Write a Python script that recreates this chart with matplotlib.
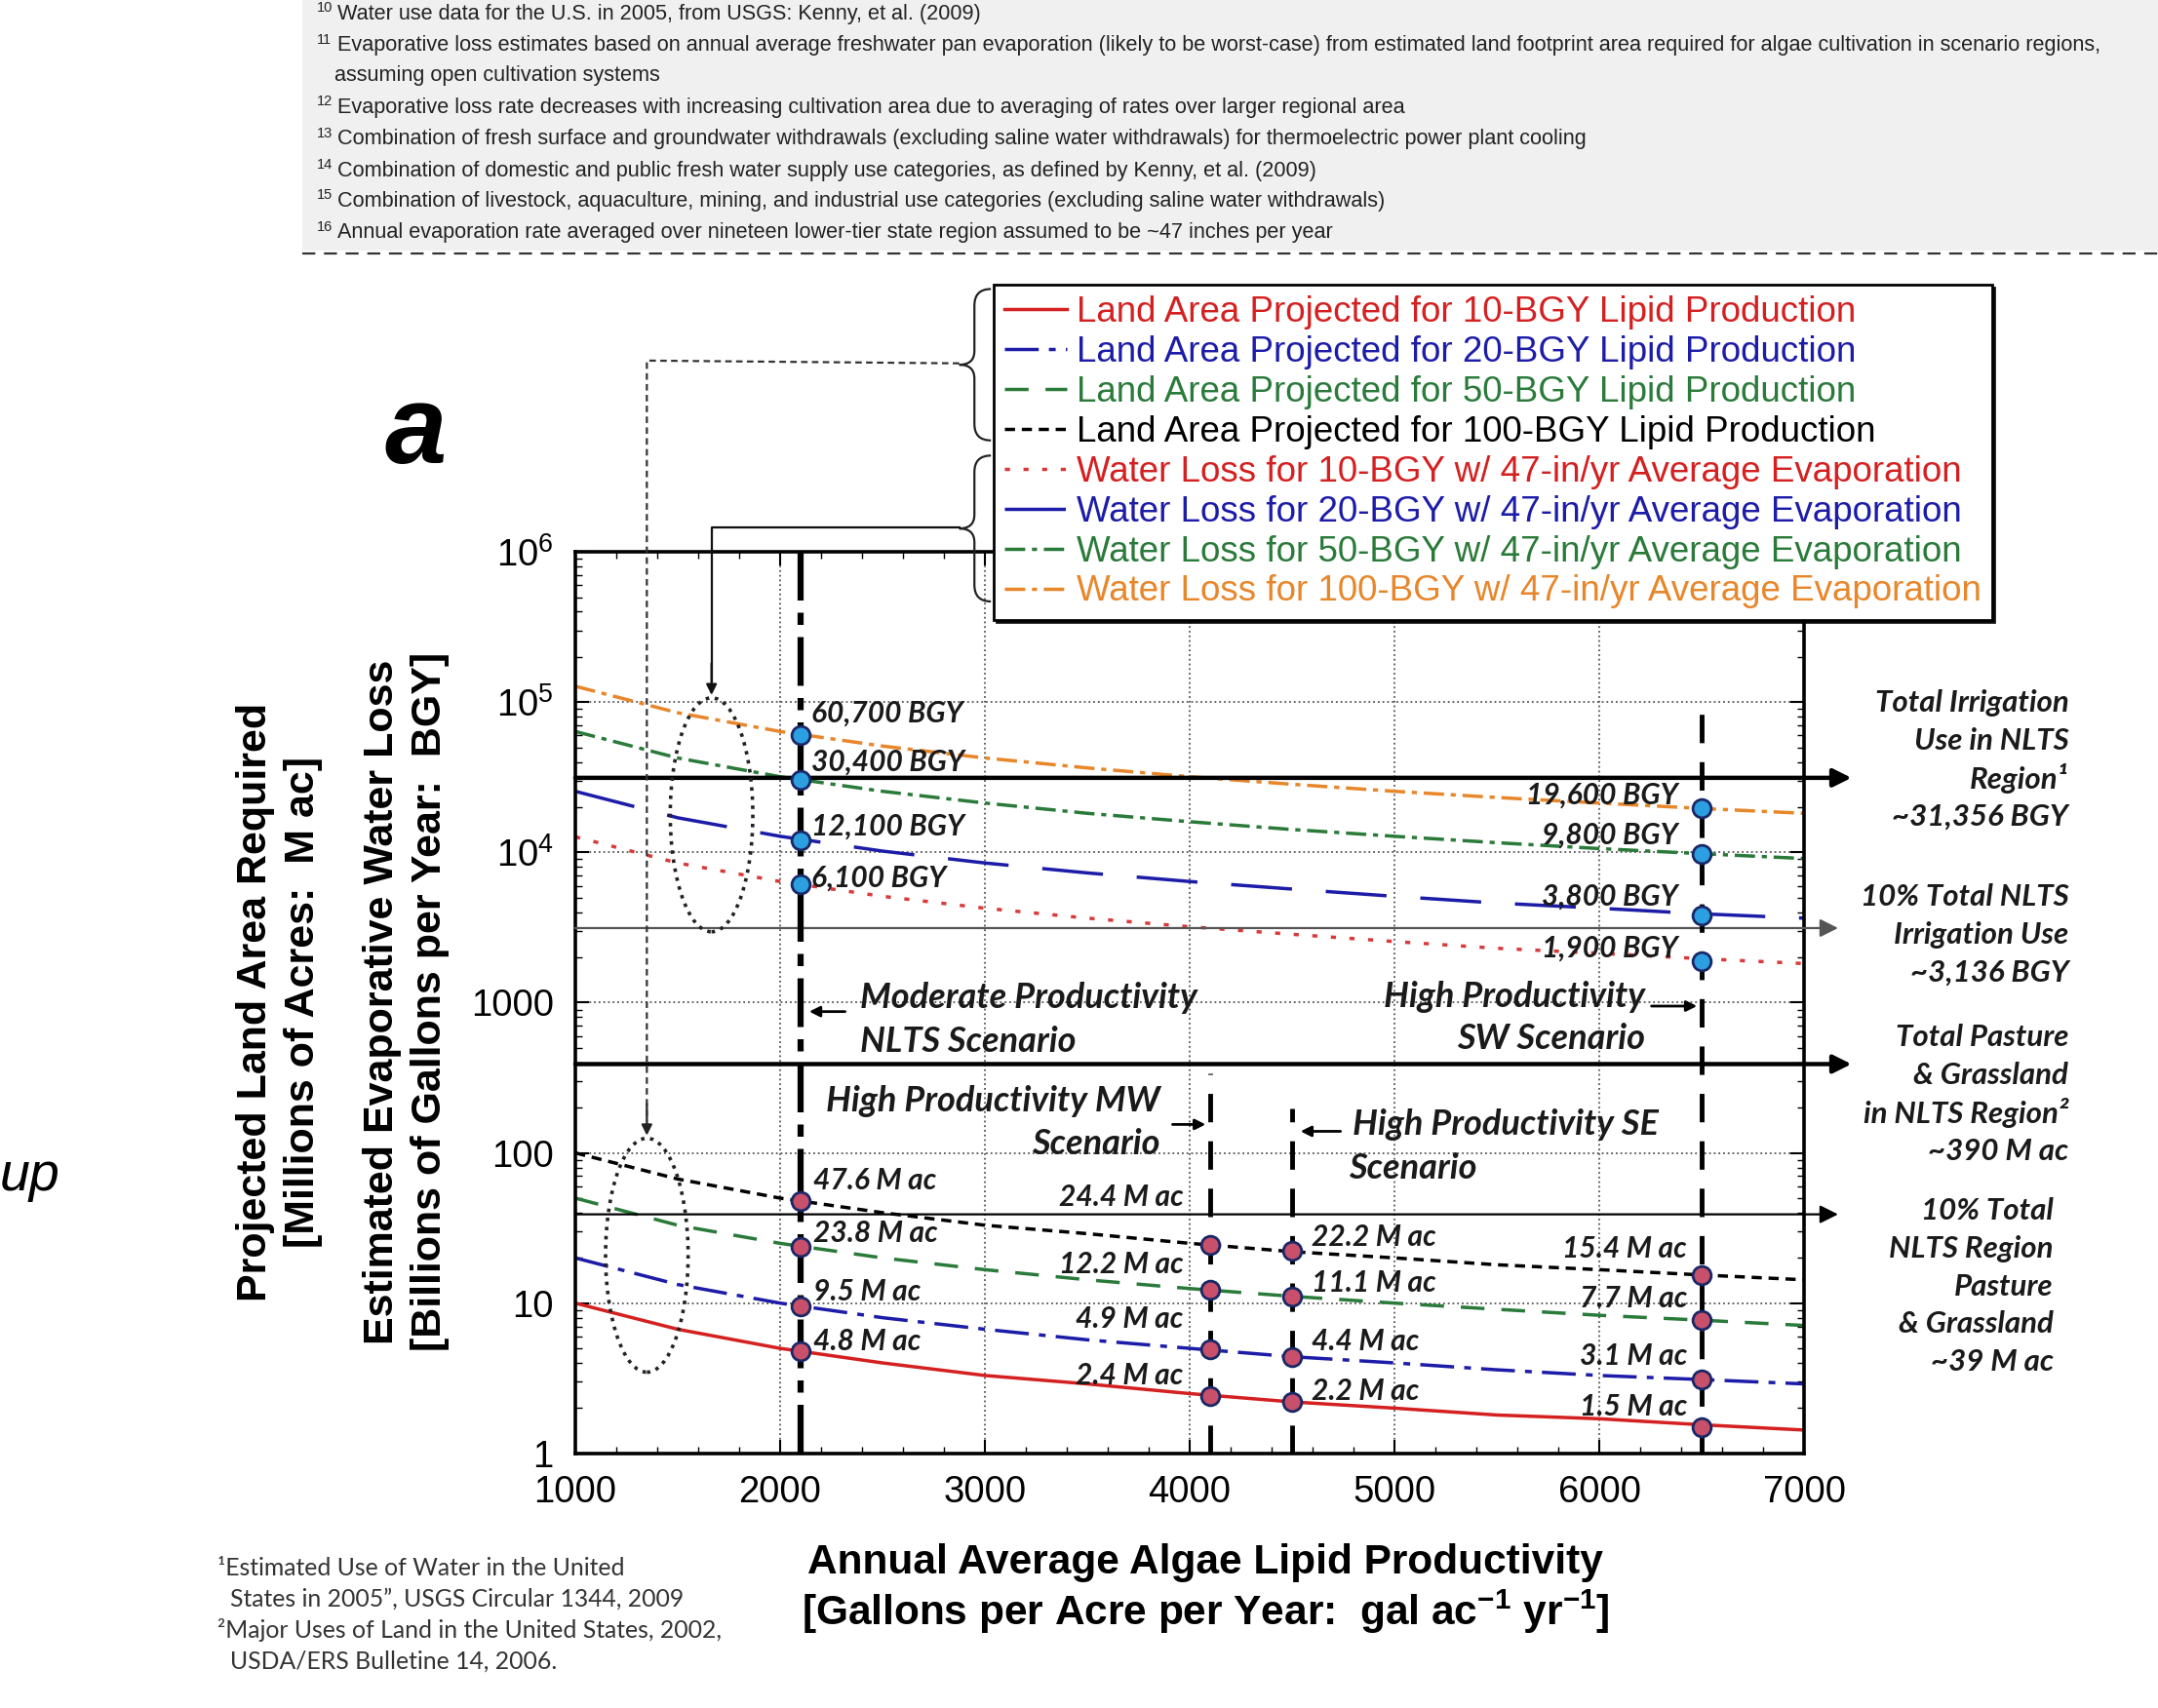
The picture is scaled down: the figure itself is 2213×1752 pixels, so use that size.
import numpy as np
import matplotlib
matplotlib.use('Agg')
import matplotlib.pyplot as plt
from matplotlib.lines import Line2D
from matplotlib.patches import Ellipse, Rectangle, PathPatch, FancyArrowPatch
from matplotlib.path import Path
from matplotlib.ticker import MultipleLocator, NullFormatter, LogLocator

plt.rcParams['font.family'] = ['Liberation Sans', 'DejaVu Sans']
plt.rcParams['mathtext.fontset'] = 'custom'
plt.rcParams['mathtext.rm'] = 'Liberation Sans'
plt.rcParams['mathtext.bf'] = 'Liberation Sans:bold'

##------ data ------##
productivity = [1000, 1500, 2000, 2500, 3000, 3500, 4000, 4500, 5000, 5500, 6000, 6500, 7000]

# land area required [M ac]
land_10 = [10, 6.7, 5.0, 4.0, 3.3, 2.9, 2.5, 2.2, 2.0, 1.8, 1.7, 1.55, 1.43]
land_20 = [20, 13.3, 10, 8.0, 6.7, 5.7, 5.0, 4.4, 4.0, 3.6, 3.3, 3.1, 2.9]
land_50 = [50, 33, 25, 20, 16.7, 14.3, 12.5, 11.1, 10, 9.1, 8.3, 7.7, 7.1]
land_100 = [100, 67, 50, 40, 33, 29, 25, 22, 20, 18, 16.7, 15.4, 14.3]

# evaporative water loss [BGY]
water_10 = [12700, 8500, 6400, 5100, 4250, 3650, 3200, 2850, 2550, 2300, 2130, 1960, 1820]
water_20 = [25500, 17000, 12800, 10200, 8500, 7300, 6400, 5700, 5100, 4600, 4250, 3900, 3650]
water_50 = [63800, 42500, 31900, 25500, 21300, 18200, 16000, 14200, 12800, 11600, 10600, 9800, 9100]
water_100 = [127600, 85000, 63800, 51000, 42500, 36500, 31900, 28400, 25500, 23200, 21300, 19600, 18200]

# scenario productivities
x_nlts, x_mw, x_se, x_sw = 2100, 4100, 4500, 6500
water_nlts = [60700, 30400, 12100, 6100]
water_sw = [19600, 9800, 3800, 1900]
land_nlts = [47.6, 23.8, 9.5, 4.8]
land_mw = [24.4, 12.2, 4.9, 2.4]
land_se = [22.2, 11.1, 4.4, 2.2]
land_sw = [15.4, 7.7, 3.1, 1.5]

# reference levels
irrigation_total = 31356
irrigation_10pct = 3136
pasture_total = 390
pasture_10pct = 39

legend_labels = ['Land Area Projected for 10-BGY Lipid Production',
                 'Land Area Projected for 20-BGY Lipid Production',
                 'Land Area Projected for 50-BGY Lipid Production',
                 'Land Area Projected for 100-BGY Lipid Production',
                 'Water Loss for 10-BGY w/ 47-in/yr Average Evaporation',
                 'Water Loss for 20-BGY w/ 47-in/yr Average Evaporation',
                 'Water Loss for 50-BGY w/ 47-in/yr Average Evaporation',
                 'Water Loss for 100-BGY w/ 47-in/yr Average Evaporation']

x_ticks = [1000, 2000, 3000, 4000, 5000, 6000, 7000]
y_ticks = [1, 10, 100, 1000, 1e4, 1e5, 1e6]
y_ticklabels = ['1', '10', '100', '1000', r'$10^4$', r'$10^5$', r'$10^6$']

top_notes = [('10', 'Water use data for the U.S. in 2005, from USGS: Kenny, et al. (2009)'),
             ('11', 'Evaporative loss estimates based on annual average freshwater pan evaporation (likely to be worst-case) from estimated land footprint area required for algae cultivation in scenario regions,'),
             ('', 'assuming open cultivation systems'),
             ('12', 'Evaporative loss rate decreases with increasing cultivation area due to averaging of rates over larger regional area'),
             ('13', 'Combination of fresh surface and groundwater withdrawals (excluding saline water withdrawals) for thermoelectric power plant cooling'),
             ('14', 'Combination of domestic and public fresh water supply use categories, as defined by Kenny, et al. (2009)'),
             ('15', 'Combination of livestock, aquaculture, mining, and industrial use categories (excluding saline water withdrawals)'),
             ('16', 'Annual evaporation rate averaged over nineteen lower-tier state region assumed to be ~47 inches per year')]

##------ helpers: layout in pixels of the 1568x1241 view ------##
W, H = 1568.0, 1241.0
def fx(px):
    return px / W
def fy(py):
    return 1 - py / H

RED = '#d42020'
BLUE = '#1c1ca8'
GREEN = '#2a7a3a'
ORANGE = '#e8862a'
LBL = dict(fontsize=21.5, fontweight='bold', style='italic', family=['Lato', 'DejaVu Sans'], color='#1a1a1a')

fig = plt.figure(figsize=(22.13, 17.52), dpi=100)
ax = fig.add_axes([fx(418), fy(1056), fx(1311) - fx(418), fy(401) - fy(1056)])

##------ top footnote box ------##
fig.patches.append(Rectangle((fx(220), fy(182)), 1 - fx(220), fy(0) - fy(182) + 0.01,
                             transform=fig.transFigure, facecolor='#f0f0f0', edgecolor='none', zorder=0))
fig.add_artist(Line2D([fx(220), 1.0], [fy(184), fy(184)], transform=fig.transFigure,
                      color='#333333', lw=1.6, dashes=(6, 4)))
note_y = [10, 33, 55, 78, 101, 124, 146, 169]
for (num, txt), py in zip(top_notes, note_y):
    if num:
        fig.text(fx(230), fy(py - 4), num, fontsize=10.5, ha='left', va='center', color='#222')
        fig.text(fx(245), fy(py), txt, fontsize=15.6, ha='left', va='center', color='#222')
    else:
        fig.text(fx(243), fy(py), txt, fontsize=15.6, ha='left', va='center', color='#222')

##------ curves ------##
h1, = ax.plot(productivity, land_10, color=RED, lw=2.5)
h2, = ax.plot(productivity, land_20, color=BLUE, lw=2.5, dashes=(10, 3, 2, 3))
h3, = ax.plot(productivity, land_50, color=GREEN, lw=2.5, dashes=(7, 5))
h4, = ax.plot(productivity, land_100, color='k', lw=2.5, dashes=(3, 2))
h5, = ax.plot(productivity, water_10, color='#d83a3a', lw=2.5, dashes=(1.5, 4))
h6, = ax.plot(productivity, water_20, color=BLUE, lw=2.5, dashes=(18, 10))
h7, = ax.plot(productivity, water_50, color=GREEN, lw=2.5, dashes=(6, 2, 1.5, 2))
h8, = ax.plot(productivity, water_100, color=ORANGE, lw=2.5, dashes=(6, 2, 1.5, 2))

##------ reference levels with arrows ------##
for lev, lw, col, xend in [(irrigation_total, 3.2, 'k', 7230), (irrigation_10pct, 1.6, '#555555', 7165),
                           (pasture_total, 3.2, 'k', 7230), (pasture_10pct, 1.6, 'k', 7165)]:
    ax.annotate('', xy=(xend, lev), xytext=(1000, lev), annotation_clip=False, zorder=4,
                arrowprops=dict(arrowstyle='-|>', lw=lw, color=col, mutation_scale=28, shrinkA=0, shrinkB=0))

##------ scenario verticals ------##
ax.plot([x_nlts, x_nlts], [1, 1e6], color='k', lw=4.5, dashes=(8, 2, 2, 2), zorder=4)
ax.plot([x_mw, x_mw], [1, 337], color='k', lw=3.5, dashes=(6, 4), zorder=4)
ax.plot([x_se, x_se], [1, 199], color='k', lw=3.5, dashes=(6, 4), zorder=4)
ax.plot([x_sw, x_sw], [1, 1e5], color='k', lw=3.5, dashes=(6, 4), zorder=4)

##------ scenario points and labels ------##
mk_water = dict(marker='o', ls='none', ms=13.5, mfc='#2b9fe0', mec='#1a2766', mew=2, zorder=6)
mk_land = dict(marker='o', ls='none', ms=13.5, mfc='#c8506a', mec='#1a2766', mew=2, zorder=6)
ax.plot([x_nlts] * len(water_nlts), water_nlts, **mk_water)
ax.plot([x_sw] * len(water_sw), water_sw, **mk_water)
ax.plot([x_nlts] * len(land_nlts), land_nlts, **mk_land)
ax.plot([x_mw] * len(land_mw), land_mw, **mk_land)
ax.plot([x_se] * len(land_se), land_se, **mk_land)
ax.plot([x_sw] * len(land_sw), land_sw, **mk_land)

def label_points(xv, vals, fmt, dx, dys, ha):
    for v, dy in zip(vals, dys):
        ax.annotate(fmt(v), xy=(xv, v), xytext=(dx, dy), textcoords='offset points',
                    ha=ha, va='center', zorder=7, **LBL)

label_points(x_nlts, water_nlts, lambda v: f'{v:,} BGY', 8, [16, 13, 10, 5], 'left')
label_points(x_sw, water_sw, lambda v: f'{v:,} BGY', -18, [10, 14, 14, 9], 'right')
label_points(x_nlts, land_nlts, lambda v: f'{v} M ac', 9, [15, 10, 11, 7], 'left')
label_points(x_mw, land_mw, lambda v: f'{v} M ac', -20, [35, 19, 23, 15], 'right')
label_points(x_se, land_se, lambda v: f'{v} M ac', 14, [10, 10, 11, 8], 'left')
label_points(x_sw, land_sw, lambda v: f'{v} M ac', -11, [19, 16, 17, 15], 'right')

##------ scenario names ------##
SC = dict(LBL, fontsize=26)
fig.text(fx(625), fy(725), 'Moderate Productivity', ha='left', va='center', **SC)
fig.text(fx(625), fy(757), 'NLTS Scenario', ha='left', va='center', **SC)
fig.text(fx(1195), fy(724), 'High Productivity', ha='right', va='center', **SC)
fig.text(fx(1195), fy(755), 'SW Scenario', ha='right', va='center', **SC)
fig.text(fx(600), fy(800), 'High Productivity MW', ha='left', va='center', **SC)
fig.text(fx(843), fy(831), 'Scenario', ha='right', va='center', **SC)
fig.text(fx(983), fy(817), 'High Productivity SE', ha='left', va='center', **SC)
fig.text(fx(980), fy(849), 'Scenario', ha='left', va='center', **SC)
for x0, y0, x1, y1 in [(616, 735, 586, 735), (1198, 731, 1235, 731), (850, 817, 878, 817), (976, 822, 943, 822)]:
    fig.add_artist(FancyArrowPatch((fx(x0), fy(y0)), (fx(x1), fy(y1)), transform=fig.transFigure,
                   arrowstyle='-|>', mutation_scale=16, lw=2, color='k', zorder=8))

##------ right side notes ------##
RS = dict(LBL, fontsize=22.5)
groups = [(1503, 511, ['Total Irrigation', 'Use in NLTS', 'Region\u00b9', '~31,356 BGY']),
          (1503, 652, ['10% Total NLTS', 'Irrigation Use', '~3,136 BGY']),
          (1503, 754, ['Total Pasture', '& Grassland', 'in NLTS Region\u00b2', '~390 M ac']),
          (1492, 880, ['10% Total', 'NLTS Region', 'Pasture', '& Grassland', '~39 M ac'])]
for xr, y0, lines in groups:
    for i, s in enumerate(lines):
        fig.text(fx(xr), fy(y0 + 27.4 * i), s, ha='right', va='center', **RS)

##------ axes styling ------##
ax.set_yscale('log')
ax.set_xlim(1000, 7000)
ax.set_ylim(1, 1e6)
ax.set_xticks(x_ticks)
ax.set_xticklabels([str(t) for t in x_ticks])
ax.set_yticks(y_ticks)
ax.set_yticklabels(y_ticklabels)
ax.xaxis.set_minor_locator(MultipleLocator(200))
ax.yaxis.set_minor_locator(LogLocator(base=10, subs=np.arange(2, 10), numticks=20))
ax.yaxis.set_minor_formatter(NullFormatter())
ax.tick_params(which='both', direction='in', top=True, right=True)
ax.tick_params(which='major', length=10, width=1.5)
ax.tick_params(which='minor', length=5, width=1)
ax.tick_params(axis='y', which='major', pad=16)
ax.tick_params(axis='x', which='major', pad=16)
for lab in ax.get_xticklabels() + ax.get_yticklabels():
    lab.set_fontsize(27.5)
ax.grid(True, which='major', linestyle=':', color='#555555', lw=1.3)
for sp in ax.spines.values():
    sp.set_linewidth(2.6)

##------ legend ------##
leg = ax.legend([h1, h2, h3, h4, h5, h6, h7, h8], legend_labels, loc='upper left',
                bbox_to_anchor=(fx(722), fy(207)), bbox_transform=fig.transFigure, borderaxespad=0,
                fontsize=26.5, frameon=True, fancybox=False, shadow={'color': 'k', 'alpha': 0.9},
                handlelength=1.75, handletextpad=0.25, labelspacing=0.16, borderpad=0.3)
leg.get_frame().set_edgecolor('k')
leg.get_frame().set_linewidth(2)
leg.set_zorder(20)
for t, c in zip(leg.get_texts(), [RED, BLUE, GREEN, 'k', RED, BLUE, GREEN, ORANGE]):
    t.set_color(c)

##------ braces and connectors ------##
def brace(y_top, y_bot, x_tip=697, x_in=708, x_end=720):
    ym = (y_top + y_bot) / 2
    pts = [(x_end, y_top), (x_in, y_top), (x_in, y_top + 12), (x_in, ym - 10), (x_in, ym), (x_tip, ym),
           (x_in, ym), (x_in, ym + 10), (x_in, y_bot - 12), (x_in, y_bot), (x_end, y_bot)]
    codes = [Path.MOVETO, Path.CURVE3, Path.CURVE3, Path.LINETO, Path.CURVE3, Path.CURVE3,
             Path.CURVE3, Path.CURVE3, Path.LINETO, Path.CURVE3, Path.CURVE3]
    p = Path([(fx(a), fy(b)) for a, b in pts], codes)
    fig.add_artist(PathPatch(p, transform=fig.transFigure, fill=False, lw=1.6, edgecolor='#222'))

brace(210, 320)
brace(331, 437)
fig.add_artist(Line2D([fx(697), fx(470), fx(470)], [fy(264), fy(262), fy(815)], transform=fig.transFigure,
                      color='#333', lw=1.6, dashes=(3, 2)))
fig.add_artist(FancyArrowPatch((fx(470), fy(800)), (fx(470), fy(827)), transform=fig.transFigure,
               arrowstyle='-|>', mutation_scale=16, lw=1.6, color='#222'))
fig.add_artist(Line2D([fx(697), fx(517), fx(517)], [fy(383), fy(383), fy(495)], transform=fig.transFigure,
                      color='#111', lw=1.6))
fig.add_artist(FancyArrowPatch((fx(517), fy(480)), (fx(517), fy(507)), transform=fig.transFigure,
               arrowstyle='-|>', mutation_scale=16, lw=1.6, color='#111'))
for cx, cy in [(517, 592), (470, 912)]:
    fig.add_artist(Ellipse((fx(cx), fy(cy)), 60 / W, 170 / H, transform=fig.transFigure, fill=False,
                           lw=2.6, edgecolor='#222', linestyle=(0, (1, 1.6))))

##------ axis titles ------##
fig.text(fx(203), fy(728), 'Projected Land Area Required\n[Millions of Acres:  M ac]', rotation=90,
         ha='center', va='center', fontsize=31, fontweight='bold', linespacing=1.3)
fig.text(fx(295), fy(728), 'Estimated Evaporative Water Loss\n[Billions of Gallons per Year:  BGY]', rotation=90,
         ha='center', va='center', fontsize=31, fontweight='bold', linespacing=1.3)
fig.text(fx(876), fy(1155), 'Annual Average Algae Lipid Productivity\n'
         r'[Gallons per Acre per Year:  gal ac$^{\mathbf{-1}}$ yr$^{\mathbf{-1}}$]',
         ha='center', va='center', fontsize=30.5, fontweight='bold', linespacing=1.15)

fig.text(fx(302), fy(316), 'a', fontsize=82, fontweight='bold', style='italic', ha='center', va='center')
fig.text(fx(0), fy(855), 'up', fontsize=40, style='italic', ha='left', va='center')

##------ bottom left references ------##
BL = dict(fontsize=17.8, family=['Lato', 'DejaVu Sans'], color='#333', ha='left', va='center')
fig.text(fx(158), fy(1139), '\u00b9Estimated Use of Water in the United', **BL)
fig.text(fx(167), fy(1162), 'States in 2005\u201d, USGS Circular 1344, 2009', **BL)
fig.text(fx(158), fy(1184), '\u00b2Major Uses of Land in the United States, 2002,', **BL)
fig.text(fx(167), fy(1207), 'USDA/ERS Bulletine 14, 2006.', **BL)

fig.savefig('out.png', dpi=100)
